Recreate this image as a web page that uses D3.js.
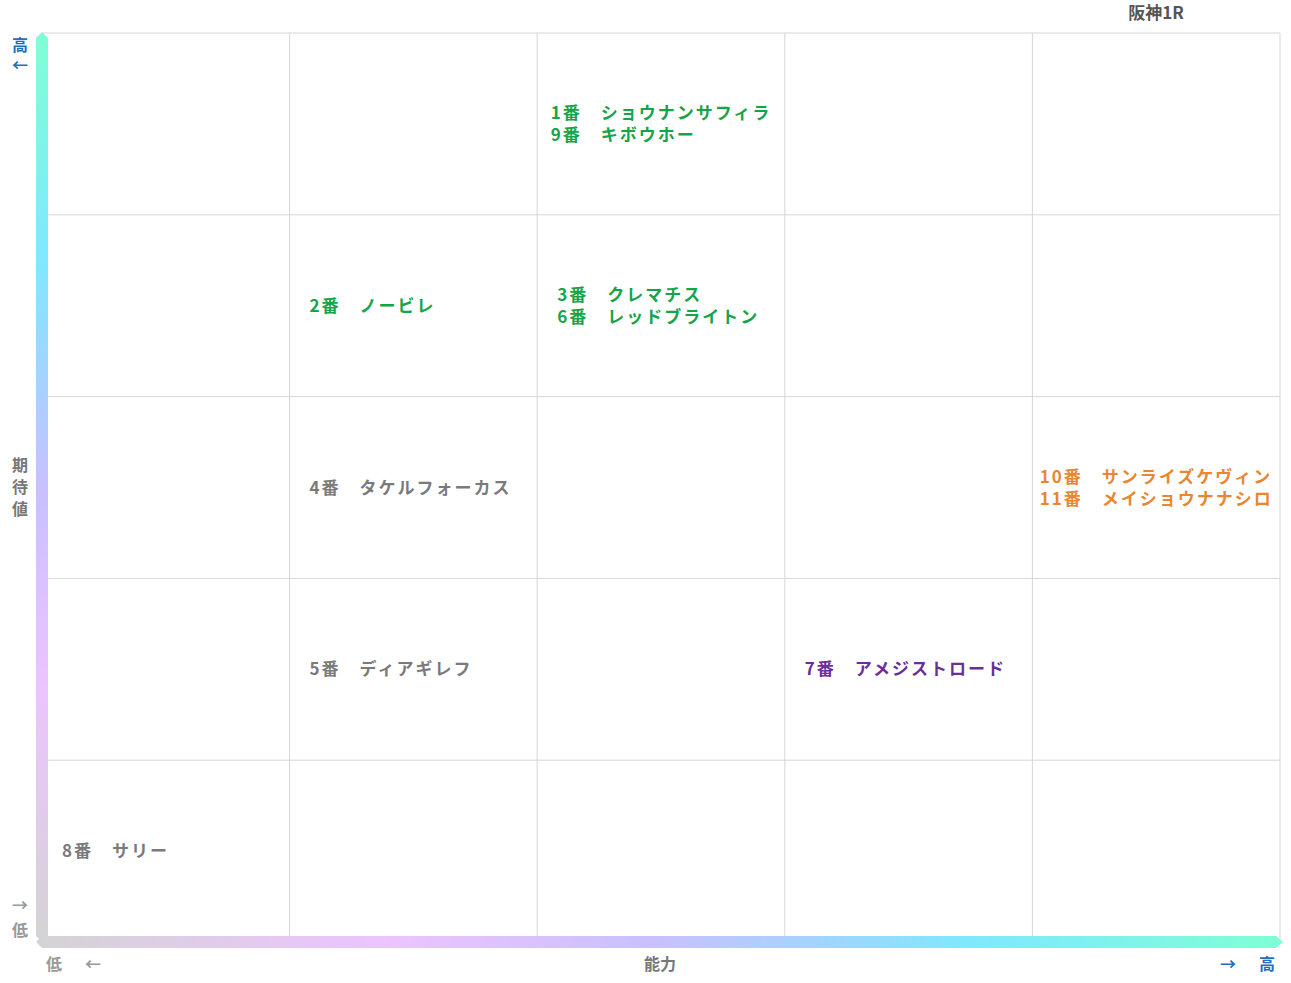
<!DOCTYPE html>
<html lang="ja">
<head>
<meta charset="utf-8">
<script src="https://cdn.jsdelivr.net/npm/d3@7"></script>
<style>
  body { margin: 0; background: #fff; }
  text { font-family: "Noto Sans CJK JP", sans-serif; font-weight: bold; }
</style>
</head>
<body>
<script>
  var title = "阪神1R";
  var horses = ["1番　ショウナンサフィラ", "9番　キボウホー", "2番　ノービレ", "3番　クレマチス", "6番　レッドブライトン",
                "4番　タケルフォーカス", "10番　サンライズケヴィン", "11番　メイショウナナシロ", "5番　ディアギレフ",
                "7番　アメジストロード", "8番　サリー"];
  var ability = [3, 3, 2, 3, 3, 2, 5, 5, 2, 4, 1];
  var expect  = [5, 5, 4, 4, 4, 3, 3, 3, 2, 2, 1];
  var group   = ["g", "g", "g", "g", "g", "n", "o", "o", "n", "p", "n"];
  var colors = {g: "#14a54a", n: "#7a7a7a", o: "#ea8630", p: "#6b2c9e"};

  var W = 1291, H = 983, x0 = 42, x1 = 1280, y0 = 33, y1 = 942;
  var svg = d3.select("body").append("svg").attr("width", W).attr("height", H);
  var x = d3.scaleLinear().domain([0.5, 5.5]).range([x0, x1]);
  var y = d3.scaleLinear().domain([0.5, 5.5]).range([y1, y0]);

  var defs = svg.append("defs");
  var stops = [["0%", "#7fffd4"], ["25%", "#7fe8ff"], ["50%", "#c8c0ff"], ["72%", "#ecc4ff"], ["100%", "#d4d4d4"]];
  var gv = defs.append("linearGradient").attr("id", "gv").attr("x1", 0).attr("y1", 0).attr("x2", 0).attr("y2", 1);
  stops.forEach(function(s) { gv.append("stop").attr("offset", s[0]).attr("stop-color", s[1]); });
  var gh = defs.append("linearGradient").attr("id", "gh").attr("x1", 1).attr("y1", 0).attr("x2", 0).attr("y2", 0);
  stops.forEach(function(s) { gh.append("stop").attr("offset", s[0]).attr("stop-color", s[1]); });

  // grid
  var edges = [0.5, 1.5, 2.5, 3.5, 4.5, 5.5];
  svg.selectAll("line.v").data(edges).enter().append("line")
    .attr("x1", d => x(d)).attr("x2", d => x(d)).attr("y1", y0).attr("y2", y1)
    .attr("stroke", "#d6d6d6");
  svg.selectAll("line.h").data(edges).enter().append("line")
    .attr("y1", d => y(d)).attr("y2", d => y(d)).attr("x1", x0).attr("x2", x1)
    .attr("stroke", "#d6d6d6");

  // axis bars
  svg.append("path").attr("d", "M36,38 L42,32 L48,38 L48,936 L42,942 L36,936 Z").attr("fill", "url(#gv)");
  svg.append("path").attr("d", "M42,936 L1276,936 L1283,942 L1276,948 L42,948 L36,942 Z").attr("fill", "url(#gh)");

  // labels
  svg.append("text").attr("x", 1156).attr("y", 19).attr("text-anchor", "middle")
    .attr("font-size", 17).attr("fill", "#555").text(title);
  function t(px, py, s, c) {
    svg.append("text").attr("x", px).attr("y", py).attr("text-anchor", "middle")
      .attr("font-size", 16).attr("fill", c).text(s);
  }
  t(20, 51, "高", "#1e6fc0"); t(20, 71, "←", "#1e6fc0");
  t(20, 471, "期", "#777"); t(20, 493, "待", "#777"); t(20, 515, "値", "#777");
  t(20, 911, "→", "#999"); t(20, 936, "低", "#999");
  t(54, 970, "低", "#999"); t(93, 970, "←", "#999");
  t(660, 970, "能力", "#777");
  t(1228, 970, "→", "#1e6fc0"); t(1267, 970, "高", "#1e6fc0");

  // horse labels, stacked per cell
  var cells = d3.groups(d3.range(horses.length), i => ability[i] + "," + expect[i]);
  cells.forEach(function(c) {
    var ids = c[1], n = ids.length;
    var texts = ids.map(function(i, k) {
      return svg.append("text")
        .attr("y", y(expect[i]) + 6 + (k - (n - 1) / 2) * 22)
        .attr("font-size", 17).attr("letter-spacing", 2)
        .attr("fill", colors[group[i]]).text(horses[i]);
    });
    var i0 = ids[0];
    var left = x(ability[i0] - 0.5), cellW = x(ability[i0] + 0.5) - left;
    var maxW = d3.max(texts, s => s.node().getComputedTextLength());
    var pad = Math.max(4, Math.min(20, (cellW - maxW) / 2));
    texts.forEach(s => s.attr("x", left + pad));
  });
</script>
</body>
</html>
